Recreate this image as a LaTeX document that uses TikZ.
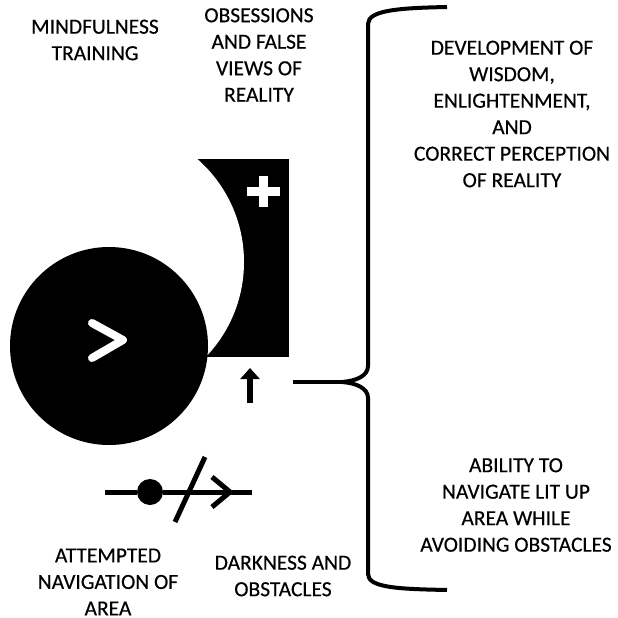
\documentclass[tikz,border=0pt]{standalone}
\usepackage{fontspec}
\setmainfont{Carlito}[FakeBold=0.4]
\usetikzlibrary{arrows.meta}
\newcommand\lbl{\fontsize{21.5}{26.5}\selectfont}

\begin{document}
\begin{tikzpicture}[x=1pt,y=-1pt]%
        \useasboundingbox (0,0) rectangle (618,618);%%
        \tikzstyle{txt}=[align=center,inner sep=0pt,font=\lbl]
        \tikzstyle{ink}=[line width=5pt]
        \tikzstyle{bracket}=[line width=4pt,line join=round]
        % crescent: box minus a disc
        \begin{scope}
        \clip (196,159) rectangle (289,357);%%
        \fill (196,159) rectangle (289,357);%%
        \fill[white] (107,262) circle (137pt);%%
        \end{scope}
        \node[circle,fill,minimum size=198pt,inner sep=0pt] (agent) at (109,346) {};%%
        \draw[white,line width=8pt,line cap=round,line join=round] (92,323) -- (123,340) -- (92,358);%%
        \draw[white,line width=9pt] (247,191) -- (280,191) (263,176) -- (263,207);%%
        \coordinate (upfoot) at (250,403);%%
        \coordinate (uphead) at (250,368);%%
        \draw[line width=6.5pt,-{Triangle[width=19pt,length=11pt]}] (upfoot) -- (uphead);%%
        % navigation symbol
        \coordinate (navl) at (105,492);%%
        \coordinate (navr) at (252,492);%%
        \node[circle,fill,minimum size=26pt,inner sep=0pt] (dot) at (150,492) {};%%
        \draw[ink] (navl) -- (dot) -- (navr);%%
        \draw[ink,line join=miter] (212,477) -- (230,492) -- (212,507);%%
        \draw[ink] (205,457) -- (175,522);%%
        % brace
        \coordinate (lead) at (293,382);%%
        \coordinate (tip) at (342,382);%%
        \draw[bracket] (lead) -- (tip);%%
        \draw[bracket] (447,7) .. controls (400,8) and (368,10) .. (368,24) -- (368,366) .. controls (368,376) and (356,381) .. (tip) .. controls (356,383) and (368,388) .. (368,398) -- (368,574) .. controls (368,588) and (400,589) .. (447,590);%%
        % labels
        \node[txt] (mindful) at (95,40) {MINDFULNESS\\TRAINING};%%
        \node[txt] (obsess) at (259,55) {OBSESSIONS\\AND FALSE\\VIEWS OF\\REALITY};%%
        \node[txt] (wisdom) at (512,114) {DEVELOPMENT OF\\WISDOM,\\ENLIGHTENMENT,\\AND\\CORRECT PERCEPTION\\OF REALITY};%%
        \node[txt] (ability) at (516,505) {ABILITY TO\\NAVIGATE LIT UP\\AREA WHILE\\AVOIDING OBSTACLES};%%
        \node[txt] (attempt) at (108,582) {ATTEMPTED\\NAVIGATION OF\\AREA};%%
        \node[txt] (dark) at (283,576) {DARKNESS AND\\OBSTACLES};%%
\end{tikzpicture}
\end{document}
